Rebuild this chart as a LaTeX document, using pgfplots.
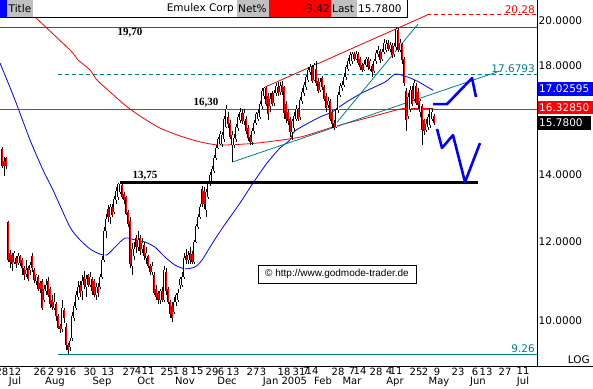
\documentclass[border=0pt]{standalone}
\usepackage{pgfplots}
\pgfplotsset{compat=1.18}
\usepackage{pgfplotstable}
\usepackage{fontspec}
\setmainfont{DejaVu Sans}
\newfontfamily\serifb{Liberation Serif}
\newfontfamily\arial{Liberation Sans}
\definecolor{tealc}{RGB}{0,128,128}
\definecolor{gbox}{RGB}{192,192,192}
\definecolor{mred}{RGB}{255,0,0}

\pgfplotstableread{
i o h l c
1 14.87 14.93 14.21 14.28
2 14.45 14.60 13.95 14.30
3 14.55 14.60 14.20 14.30
4 12.55 12.60 11.45 11.50
5 11.70 11.78 11.30 11.44
6 11.63 11.68 11.22 11.40
7 11.45 11.75 11.40 11.70
8 11.55 11.60 11.30 11.40
9 11.42 11.68 11.38 11.62
10 11.60 11.65 11.35 11.42
11 11.50 11.55 11.10 11.28
12 11.30 11.35 10.98 11.12
13 11.15 11.50 11.05 11.25
14 11.30 11.35 10.95 11.00
15 11.24 11.45 11.10 11.36
16 11.62 11.70 11.20 11.28
17 11.25 11.30 10.90 10.98
18 10.95 11.15 10.85 11.10
19 11.05 11.10 10.70 10.75
20 10.90 10.95 10.65 10.75
21 10.95 11.00 10.25 10.30
22 10.50 10.85 10.45 10.75
23 10.72 11.00 10.60 10.85
24 10.95 11.05 10.55 10.60
25 10.75 10.80 10.30 10.40
26 10.50 10.60 10.25 10.32
27 10.30 10.65 10.25 10.45
28 10.40 10.45 10.00 10.10
29 10.10 10.15 9.80 9.83
30 9.88 9.92 9.72 9.80
31 9.80 10.50 9.75 10.30
32 10.25 10.30 9.95 10.05
33 9.85 9.95 9.35 9.45
34 9.45 9.50 9.26 9.35
35 9.40 9.60 9.33 9.55
36 9.60 10.20 9.55 10.10
37 10.05 10.45 10.00 10.35
38 10.30 10.70 10.25 10.60
39 10.55 10.95 10.50 10.80
40 10.85 10.95 10.55 10.65
41 10.70 11.10 10.50 10.95
42 11.05 11.22 10.75 10.85
43 10.80 11.10 10.55 11.00
44 11.10 11.15 10.80 10.85
45 10.85 11.20 10.80 11.05
46 11.00 11.05 10.60 10.70
47 10.95 11.00 10.55 10.60
48 10.60 10.90 10.50 10.80
49 10.80 10.90 10.55 10.65
50 10.80 11.15 10.75 11.05
51 11.05 11.60 11.00 11.50
52 11.50 12.40 11.45 12.30
53 12.30 12.80 12.10 12.65
54 12.95 13.05 12.55 12.70
55 12.70 13.10 12.50 13.00
56 13.00 13.10 12.70 12.75
57 12.85 13.35 12.80 13.25
58 13.20 13.60 13.10 13.50
59 13.30 13.75 13.20 13.70
60 13.45 13.75 13.40 13.70
61 13.68 13.72 13.25 13.30
62 13.40 13.45 13.10 13.20
63 13.30 13.35 12.75 12.80
64 12.85 12.90 12.40 12.50
65 12.60 12.70 11.30 11.40
66 11.35 11.95 11.10 11.80
67 11.60 12.00 11.50 11.80
68 12.10 12.20 11.70 11.85
69 11.85 12.30 11.75 12.05
70 12.10 12.20 11.65 11.75
71 11.80 12.10 11.70 11.95
72 11.90 12.00 11.50 11.60
73 11.55 11.85 11.40 11.70
74 11.60 11.65 11.30 11.35
75 11.35 11.40 11.10 11.20
76 11.20 11.45 11.10 11.35
77 11.10 11.20 10.60 10.65
78 10.75 10.85 10.50 10.55
79 10.65 10.70 10.40 10.50
80 10.50 10.75 10.40 10.70
81 10.70 10.80 10.45 10.50
82 10.50 11.35 10.45 11.25
83 11.20 11.30 10.60 10.70
84 10.75 10.80 10.40 10.45
85 10.45 10.50 10.05 10.15
86 10.35 10.45 9.98 10.05
87 10.20 10.55 10.15 10.45
88 10.45 10.65 10.35 10.60
89 10.50 10.75 10.45 10.65
90 10.85 11.05 10.75 11.00
91 10.85 11.20 10.80 11.05
92 11.05 11.70 11.00 11.55
93 11.62 11.80 11.40 11.50
94 11.50 11.75 11.40 11.65
95 11.70 11.85 11.40 11.50
96 11.66 11.75 11.40 11.46
97 11.46 12.05 11.40 11.99
98 12.00 12.50 11.95 12.44
99 12.40 12.80 12.35 12.70
100 12.70 13.10 12.65 13.00
101 13.55 13.65 13.00 13.10
102 13.50 13.60 12.95 13.10
103 12.90 13.55 12.70 13.45
104 13.30 13.80 13.25 13.70
105 13.70 14.10 13.65 14.00
106 13.80 14.30 13.75 14.20
107 14.13 14.65 14.05 14.55
108 14.55 15.00 14.50 14.90
109 14.90 15.30 14.85 15.20
110 15.05 15.50 15.00 15.40
111 15.05 15.45 14.95 15.35
112 15.20 16.05 15.10 15.93
113 15.65 16.45 15.60 16.30
114 16.00 16.20 15.60 15.75
115 15.80 15.90 15.20 15.30
116 15.00 15.50 14.42 15.35
117 15.00 15.40 14.90 15.25
118 15.20 15.75 15.10 15.65
119 15.60 16.10 15.50 16.00
120 15.90 16.35 15.80 16.20
121 16.15 16.30 15.75 15.85
122 15.85 16.30 15.70 16.15
123 15.95 16.05 15.40 15.50
124 15.60 15.70 15.15 15.25
125 15.30 15.35 15.00 15.10
126 15.10 15.60 15.00 15.50
127 15.50 15.90 15.40 15.80
128 15.80 16.20 15.70 16.10
129 15.95 16.30 15.85 16.15
130 16.00 16.60 15.95 16.50
131 16.40 17.10 16.30 17.00
132 16.80 17.15 16.70 17.10
133 17.10 17.15 16.40 16.50
134 16.80 16.90 15.90 16.10
135 16.40 16.90 16.20 16.70
136 16.90 17.00 16.40 16.50
137 16.55 17.05 16.40 16.90
138 16.90 17.30 16.80 17.20
139 17.15 17.35 16.80 16.90
140 16.95 17.35 16.85 17.20
141 17.25 17.40 16.85 16.95
142 17.15 17.20 15.95 16.15
143 16.50 16.60 15.80 15.95
144 16.20 16.30 15.70 15.85
145 15.95 16.00 15.30 15.45
146 15.45 15.95 15.17 15.85
147 15.60 16.20 15.50 16.05
148 15.95 16.45 15.85 16.30
149 16.30 16.35 15.85 15.95
150 16.00 16.75 15.90 16.65
151 16.60 17.10 16.50 16.95
152 16.90 17.35 16.80 17.25
153 17.15 17.65 17.05 17.55
154 17.45 17.95 17.35 17.85
155 17.75 18.10 17.65 17.95
156 17.95 18.05 17.30 17.40
157 17.45 18.15 17.40 18.05
158 17.90 18.20 17.20 17.30
159 17.40 17.50 16.90 17.00
160 17.05 17.50 16.95 17.35
161 17.50 17.60 17.05 17.15
162 17.15 17.25 16.60 16.70
163 16.80 16.90 16.20 16.35
164 16.45 16.75 16.35 16.60
165 16.60 16.70 15.85 15.95
166 16.15 16.25 15.60 15.75
167 15.80 15.90 15.55 15.60
168 15.65 16.35 15.60 16.25
169 16.25 16.95 16.15 16.85
170 16.85 17.30 16.75 17.20
171 17.10 17.40 17.00 17.25
172 17.25 17.70 17.15 17.55
173 17.55 18.05 17.45 17.95
174 17.90 18.35 17.80 18.20
175 18.10 18.60 18.00 18.45
176 18.20 18.60 18.10 18.50
177 18.50 18.60 18.20 18.30
178 18.30 18.65 18.25 18.50
179 18.50 18.60 18.05 18.15
180 18.30 18.40 17.85 17.95
181 18.05 18.15 17.75 17.85
182 17.85 18.25 17.80 18.10
183 18.05 18.40 17.95 18.30
184 18.30 18.40 17.85 17.95
185 17.90 18.30 17.80 18.20
186 18.00 18.10 17.55 17.75
187 17.80 18.30 17.70 18.20
188 18.20 18.70 18.10 18.55
189 18.50 18.85 18.40 18.70
190 18.65 18.75 18.15 18.25
191 18.30 18.75 18.20 18.60
192 18.60 19.15 18.50 19.00
193 18.70 19.10 18.60 18.95
194 19.00 19.10 18.65 18.75
195 18.75 19.05 18.60 18.90
196 18.90 19.00 18.35 18.45
197 18.50 19.00 18.40 18.85
198 18.80 19.72 18.70 19.60
199 19.55 19.65 18.60 18.70
200 18.70 19.15 18.60 19.00
201 18.95 19.00 18.10 18.25
202 18.30 18.40 17.20 17.30
203 17.00 17.10 15.50 15.90
204 16.05 16.90 15.95 16.75
205 16.30 17.20 16.20 17.05
206 17.05 17.20 16.40 16.50
207 16.70 17.45 16.60 17.30
208 17.20 17.30 16.45 16.55
209 16.95 17.10 16.30 16.45
210 16.20 16.70 16.00 16.60
211 16.40 16.50 15.00 15.55
212 15.90 15.95 15.35 15.50
213 15.55 15.95 15.45 15.75
214 15.65 16.10 15.55 16.00
215 15.70 16.35 15.60 16.30
216 15.95 16.30 15.85 16.20
217 16.05 16.10 15.70 15.78
}\candles

\begin{document}
\begin{tikzpicture}[x=1pt,y=1pt]
\begin{axis}[
  at={(0pt,22pt)}, anchor=south west, scale only axis,
  width=537pt, height=366pt,
  xmin=0, xmax=268.5, ymode=log, ymin=9.006, ymax=20.97,
  axis x line*=bottom, axis y line*=right,
  axis line style={black, line width=0.8pt},
  major tick length=0pt,
  ytick={10,12,14,18,20},
  yticklabels={10.0000,12.0000,14.0000,18.0000,20.0000},
  yticklabel style={anchor=west, inner sep=0pt, xshift=1.5pt, font=\fontsize{10.5}{12}\selectfont},
  xtick={1,7.5,20,25.5,30,35,45,54,64.5,69,74,83.5,88,92.5,98.5,106,110.5,116.5,126.5,131.5,142,149.5,153,156,169,176,180,188,194.5,198,208,212.5,218.5,229,237.5,243,252.5,261.5},
  xticklabels={28,12,26,2,9,16,30,13,27,4,11,25,1,8,15,29,6,13,27,3,18,31,7,14,28,7,14,28,4,11,25,2,9,23,6,13,27,11},
  xticklabel style={anchor=north, inner sep=0pt, yshift=-1.5pt, font=\fontsize{10}{11}\selectfont},
  extra x ticks={7.5,27.5,51,73,92.5,113.5,142.5,161.5,176,197.5,219.5,239,261.5},
  extra x tick labels={Jul,Aug,Sep,Oct,Nov,Dec,Jan 2005,Feb,Mar,Apr,May,Jun,Jul},
  extra x tick style={xticklabel style={yshift=-9.5pt}},
]
% horizontal levels
\addplot[mred, line width=0.9pt] coordinates {(0,19.70) (268.5,19.70)};
\addplot[tealc, line width=0.9pt] coordinates {(0,16.30) (268.5,16.30)};
\addplot[tealc, line width=0.8pt, dash pattern=on 4pt off 3pt] coordinates {(29,17.6793) (268.5,17.6793)};
\addplot[tealc, line width=0.8pt] coordinates {(29,9.26) (268.5,9.26)};
\addplot[mred, line width=0.8pt, dash pattern=on 4pt off 3pt] coordinates {(213.5,20.28) (268.5,20.28)};
% moving averages
\addplot[blue, line width=0.8pt, smooth, tension=0.4] coordinates {
(0,18.13) (3.5,17.43) (7.5,16.65) (15,15.18) (21.5,14.16) (26.5,13.52) (35,12.41) (40,12.05) (45,11.80) (50,11.66) (53.5,11.64) (57.5,11.85) (62.5,12.10) (67.5,12.05) (72.5,11.99) (77.5,11.85) (82.5,11.58) (87.5,11.37) (92.5,11.27) (97.5,11.32) (101,11.50) (106,11.94) (111.5,12.41) (120,13.12) (126.5,13.74) (133.5,14.39) (140,14.90) (145,15.18) (147.5,15.50) (159,15.97) (166,16.19) (172.5,16.53) (181,16.92) (192.5,17.35) (197.5,17.67) (202.5,17.59) (208.5,17.39) (216.5,17.026)};
\addplot[mred, line width=0.8pt, smooth, tension=0.4] coordinates {
(9,20.95) (16.5,20.25) (35,18.68) (39,18.26) (45,17.84) (48.5,17.43) (55,16.96) (62.5,16.45) (70,16.04) (80,15.60) (90,15.32) (100,15.11) (110,15.00) (128.5,15.07) (150,15.28) (166.5,15.64) (183.5,15.97) (200,16.30) (203.5,16.3285)};
\addplot[mred, line width=0.8pt] coordinates {(203.5,16.3285) (216.5,16.3285)};
% trend lines
\addplot[mred, line width=0.8pt] coordinates {(132.5,17.15) (213.5,20.25)};
\addplot[tealc, line width=0.8pt] coordinates {(116,14.42) (250,17.80)};
\addplot[tealc, line width=0.8pt] coordinates {(166.5,15.64) (209,19.84)};
% candles: wicks
\addplot[draw=none, mark=none, error bars/.cd, y dir=both, y explicit, error mark=none,
  error bar style={black, line width=0.7pt}]
  table[x=i, y=c, y error plus expr=\thisrow{h}-\thisrow{c}, y error minus expr=\thisrow{c}-\thisrow{l}] {\candles};
% candle bodies outline
\addplot[draw=none, mark=none, error bars/.cd, y dir=both, y explicit, error mark=none,
  error bar style={black, line width=2.4pt}]
  table[x=i, y=o, y error plus expr={max(\thisrow{c}-\thisrow{o},0)}, y error minus expr={max(\thisrow{o}-\thisrow{c},0)}] {\candles};
% up candles white
\addplot[draw=none, mark=none,
  error bars/.cd, y dir=plus, y explicit, error mark=none,
  error bar style={white, line width=0.9pt}]
  table[x=i, y=o, y error plus expr={max(\thisrow{c}-\thisrow{o},0)}] {\candles};
% down candles red
\addplot[draw=none, mark=none,
  error bars/.cd, y dir=plus, y explicit, error mark=none,
  error bar style={mred, line width=0.9pt}]
  table[x=i, y=c, y error plus expr={max(\thisrow{o}-\thisrow{c},0)}] {\candles};
% support 13.75
\addplot[black, line width=2.6pt] coordinates {(60,13.75) (239,13.75)};
% forecast paths
\addplot[blue, line width=2.6pt, line join=round] coordinates {(216.5,16.49) (223.5,16.49) (236,17.51) (238,16.76)};
\addplot[blue, line width=2.6pt, line join=round] coordinates {(218.5,15.57) (221,14.90) (226.5,15.35) (232.5,13.77) (240,15.07)};
% labels
\node[anchor=north, inner sep=1pt, font=\serifb\bfseries\fontsize{11}{12}\selectfont] at (axis cs:65,19.70) {19,70};
\node[anchor=south, inner sep=1.5pt, font=\serifb\bfseries\fontsize{11}{12}\selectfont] at (axis cs:103,16.30) {16,30};
\node[anchor=south, inner sep=2pt, font=\serifb\bfseries\fontsize{11}{12}\selectfont] at (axis cs:72.5,13.75) {13,75};
\node[anchor=south east, inner sep=1pt, text=tealc, font=\fontsize{10.5}{12}\selectfont] at (axis cs:268,17.6793) {17.6793};
\node[anchor=south east, inner sep=1pt, text=tealc, font=\fontsize{10.5}{12}\selectfont] at (axis cs:268,9.26) {9.26};
\node[anchor=south east, inner sep=1pt, text=mred, font=\fontsize{10.5}{12}\selectfont] at (axis cs:268,20.28) {20.28};
\end{axis}
% bottom line extension
\draw[black, line width=0.8pt] (0,22) -- (593,22);
% header
\fill[blue] (0,371) rectangle (7,388);
\fill[gbox] (7,371) rectangle (33,388);
\fill[white] (33,371) rectangle (237,388);
\fill[gbox] (237,371) rectangle (269,388);
\fill[mred] (269,371) rectangle (331,388);
\fill[gbox] (331,371) rectangle (357,388);
\fill[white] (357,371) rectangle (407,388);
\draw[black, line width=0.8pt] (0,371) -- (407,371) -- (407,388);
\begin{scope}[every node/.style={font=\fontsize{10.5}{12}\selectfont, inner sep=0pt}]
\node[anchor=west] at (8.5,379.5) {Title};
\node[anchor=east] at (234,379.5) {Emulex Corp};
\node[anchor=west] at (238,379.5) {Net\%};
\node[anchor=east] at (330,379.5) {-3.42};
\node[anchor=west] at (332,379.5) {Last};
\node[anchor=west] at (358,379.5) {15.7800};
\end{scope}
% right value boxes
\fill[blue] (538,292) rectangle (593,306);
\fill[mred] (538,274) rectangle (593,287);
\fill[black] (538,258) rectangle (591,272);
\begin{scope}[every node/.style={font=\fontsize{10.5}{12}\selectfont, inner sep=0pt, text=white, anchor=west}]
\node at (539,299) {17.02595};
\node at (539,280.5) {16.32850};
\node at (539,265) {15.7800};
\end{scope}
\node[anchor=east, inner sep=0pt, font=\fontsize{10.5}{12}\selectfont] at (590,28) {LOG};
% copyright
\node[draw=black, fill=white, line width=0.6pt, minimum width=158pt, minimum height=18pt, inner sep=1pt, font=\arial\fontsize{10}{12}\selectfont] at (337,114) {© http://www.godmode-trader.de};
\pgfresetboundingbox
\path[use as bounding box] (0,0) rectangle (593,388);
\end{tikzpicture}
\end{document}
